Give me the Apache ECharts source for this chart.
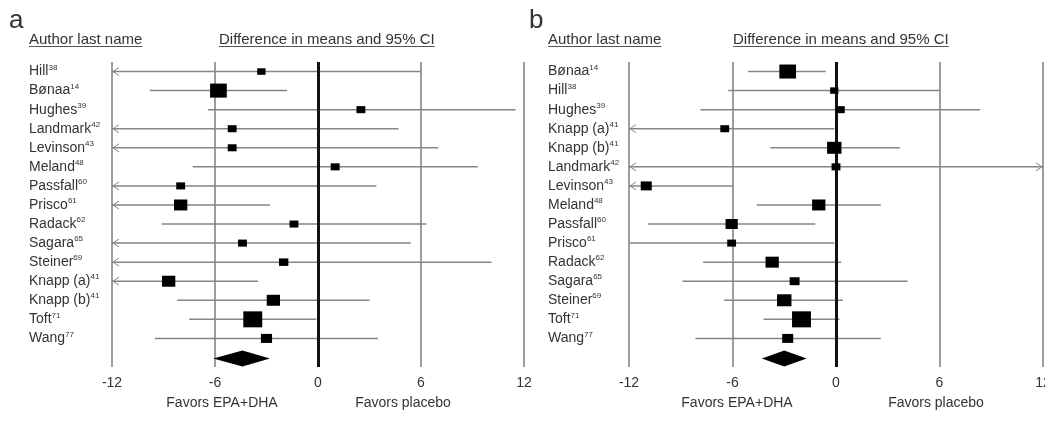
<!DOCTYPE html>
<html>
<head>
<meta charset="utf-8">
<script src="https://cdn.jsdelivr.net/npm/echarts@6/dist/echarts.min.js"></script>
<style>
  html, body { margin: 0; padding: 0; background: #fff; }
  #main { width: 1045px; height: 424px; }
</style>
</head>
<body>
<div id="main"></div>
<script>
// panel a : studies, reference numbers, difference in means and 95% CI, weights (%)
const namesA = ['Hill', 'Bønaa', 'Hughes', 'Landmark', 'Levinson', 'Meland', 'Passfall', 'Prisco',
                'Radack', 'Sagara', 'Steiner', 'Knapp (a)', 'Knapp (b)', 'Toft', 'Wang'];
const refsA = ['38', '14', '39', '42', '43', '48', '60', '61', '62', '65', '69', '41', '41', '71', '77'];
const meanA = [-3.3, -5.8, 2.5, -5.0, -5.0, 1.0, -8.0, -8.0, -1.4, -4.4, -2.0, -8.7, -2.6, -3.8, -3.0];
const lowA = [-16, -9.8, -6.4, -15, -15, -7.3, -15, -14, -9.1, -15, -16, -14, -8.2, -7.5, -9.5];
const highA = [6.0, -1.8, 11.5, 4.7, 7.0, 9.3, 3.4, -2.8, 6.3, 5.4, 10.1, -3.5, 3.0, -0.1, 3.5];
const weightA = [3.2, 14.7, 3.7, 3.7, 3.7, 3.7, 3.7, 9.0, 3.7, 3.7, 4.2, 9.0, 9.0, 19.1, 6.1];
const pooledA = [-6.1, -4.4, -2.8]; // low, mean, high

// panel b
const namesB = ['Bønaa', 'Hill', 'Hughes', 'Knapp (a)', 'Knapp (b)', 'Landmark', 'Levinson', 'Meland',
                'Passfall', 'Prisco', 'Radack', 'Sagara', 'Steiner', 'Toft', 'Wang'];
const refsB = ['14', '38', '39', '41', '41', '42', '43', '48', '60', '61', '62', '65', '69', '71', '77'];
const meanB = [-2.8, -0.1, 0.25, -6.45, -0.1, 0.0, -11.0, -1.0, -6.05, -6.05, -3.7, -2.4, -3.0, -2.0, -2.8];
const lowB = [-5.1, -6.25, -7.85, -15, -3.8, -16, -14, -4.6, -10.9, -11.95, -7.7, -8.9, -6.5, -4.2, -8.15];
const highB = [-0.6, 6.0, 8.35, -0.1, 3.7, 16, -5.95, 2.6, -1.2, -0.1, 0.3, 4.15, 0.4, 0.2, 2.6];
const weightB = [12.7, 2.7, 3.2, 3.2, 9.3, 3.2, 5.2, 7.8, 6.5, 3.2, 7.8, 4.1, 9.3, 16.6, 5.2];
const pooledB = [-4.3, -3.0, -1.7];

const xTicks = [-12, -6, 0, 6, 12];
const headers = ['Author last name', 'Difference in means and 95% CI'];
const favors = ['Favors EPA+DHA', 'Favors placebo'];

const FONT = '"Liberation Sans", Arial, sans-serif';
const TXT = '#333';
const GRAY = '#858585';
const X_MIN = xTicks[0], X_MAX = xTicks[xTicks.length - 1];

function measure(t, size) {
  const ctx = document.createElement('canvas').getContext('2d');
  ctx.font = size + 'px ' + FONT;
  return ctx.measureText(t).width;
}

function xAxisOf(gi) {
  return {
    gridIndex: gi, type: 'value', min: X_MIN, max: X_MAX, interval: 6,
    axisLine: { show: false }, axisTick: { show: false },
    axisLabel: { fontSize: 14, fontFamily: FONT, color: TXT, margin: 9 },
    splitLine: { show: true, lineStyle: { color: GRAY, width: 1.6 } }
  };
}

function yAxisOf(gi, names, refs, margin) {
  return {
    gridIndex: gi, type: 'category', inverse: true,
    data: names.concat(['']),
    axisLine: { show: false }, axisTick: { show: false }, splitLine: { show: false },
    axisLabel: {
      align: 'left', margin: margin, interval: 0,
      formatter: (v, i) => i < refs.length ? '{n|' + v + '}{s|' + refs[i] + '}' : '',
      rich: {
        n: { fontSize: 14, fontFamily: FONT, color: TXT, lineHeight: 16 },
        s: { fontSize: 8, fontFamily: FONT, color: TXT, lineHeight: 9, verticalAlign: 'top' }
      }
    }
  };
}

function ciSeries(gi, means, lows, highs) {
  return {
    type: 'custom', xAxisIndex: gi, yAxisIndex: gi, z: 2, silent: true,
    data: means.map((m, i) => [i, m, lows[i], highs[i]]),
    encode: { x: [1, 2, 3], y: 0 },
    renderItem: function (params, api) {
      const row = api.value(0), lo = api.value(2), hi = api.value(3);
      const p0 = api.coord([Math.max(lo, X_MIN), row]);
      const p1 = api.coord([Math.min(hi, X_MAX), row]);
      const kids = [{
        type: 'line',
        shape: { x1: p0[0], y1: p0[1], x2: p1[0], y2: p1[1] },
        style: { stroke: GRAY, lineWidth: 1.5 }
      }];
      const arrowStyle = { stroke: GRAY, lineWidth: 1, fill: null };
      if (lo < X_MIN) {
        kids.push({ type: 'polyline', shape: { points: [[p0[0] + 7, p0[1] - 4], [p0[0] + 1, p0[1]], [p0[0] + 7, p0[1] + 4]] }, style: arrowStyle });
      }
      if (hi > X_MAX) {
        kids.push({ type: 'polyline', shape: { points: [[p1[0] - 7, p1[1] - 4], [p1[0] - 1, p1[1]], [p1[0] - 7, p1[1] + 4]] }, style: arrowStyle });
      }
      return { type: 'group', children: kids };
    },
    markLine: {
      silent: true, symbol: 'none', z: 3,
      label: { show: false },
      lineStyle: { color: '#111', width: 3, type: 'solid' },
      data: [{ xAxis: 0 }]
    }
  };
}

function estSeries(gi, means, weights, k) {
  return {
    type: 'custom', xAxisIndex: gi, yAxisIndex: gi, z: 4, silent: true,
    data: means.map((m, i) => [i, m, weights[i]]),
    encode: { x: 1, y: 0 },
    renderItem: function (params, api) {
      const c = api.coord([api.value(1), api.value(0)]);
      const h = k * Math.sqrt(api.value(2));
      const w = h * 1.12 + 1;
      return { type: 'rect', shape: { x: c[0] - w / 2, y: c[1] - h / 2, width: w, height: h }, style: { fill: '#000' } };
    }
  };
}

function pooledSeries(gi, row, pooled) {
  return {
    type: 'custom', xAxisIndex: gi, yAxisIndex: gi, z: 4, silent: true,
    data: [[row, pooled[0], pooled[1], pooled[2]]],
    encode: { x: [1, 2, 3], y: 0 },
    renderItem: function (params, api) {
      const r = api.value(0);
      const a = api.coord([api.value(1), r]);
      const m = api.coord([api.value(2), r]);
      const b = api.coord([api.value(3), r]);
      return {
        type: 'polygon',
        shape: { points: [[a[0], a[1] + 1], [m[0], m[1] - 7], [b[0], b[1] + 1], [m[0], m[1] + 9]] },
        style: { fill: '#000' }
      };
    }
  };
}

function txt(t, x, y, size, align) {
  return { type: 'text', x: x, y: y, silent: true,
    style: { text: t, fontSize: size, fontFamily: FONT, fill: TXT, align: align || 'left', verticalAlign: 'middle' } };
}

function header(t, x, y) {
  const w = measure(t, 15);
  return [
    txt(t, x, y, 15),
    { type: 'line', silent: true, shape: { x1: x, y1: y + 7, x2: x + w, y2: y + 7 }, style: { stroke: '#555', lineWidth: 1 } }
  ];
}

const graphics = [
  txt('a', 9, 21, 26), txt('b', 529, 21, 26),
  ...header(headers[0], 29, 39.5), ...header(headers[1], 219, 39.5),
  ...header(headers[0], 548, 39.5), ...header(headers[1], 733, 39.5),
  txt(favors[0], 222, 403, 14, 'center'), txt(favors[1], 403, 403, 14, 'center'),
  txt(favors[0], 737, 403, 14, 'center'), txt(favors[1], 936, 403, 14, 'center')
];

const chart = echarts.init(document.getElementById('main'), null, { renderer: 'canvas' });
chart.setOption({
  animation: false,
  backgroundColor: '#fff',
  grid: [
    { left: 112, top: 62, width: 412, height: 305, containLabel: false, outerBoundsMode: 'none' },
    { left: 629, top: 62, width: 414, height: 305, containLabel: false, outerBoundsMode: 'none' }
  ],
  xAxis: [xAxisOf(0), xAxisOf(1)],
  yAxis: [yAxisOf(0, namesA, refsA, 83), yAxisOf(1, namesB, refsB, 81)],
  series: [
    ciSeries(0, meanA, lowA, highA),
    estSeries(0, meanA, weightA, 3.66),
    pooledSeries(0, namesA.length, pooledA),
    ciSeries(1, meanB, lowB, highB),
    estSeries(1, meanB, weightB, 3.93),
    pooledSeries(1, namesB.length, pooledB)
  ],
  graphic: graphics
});
</script>
</body>
</html>
